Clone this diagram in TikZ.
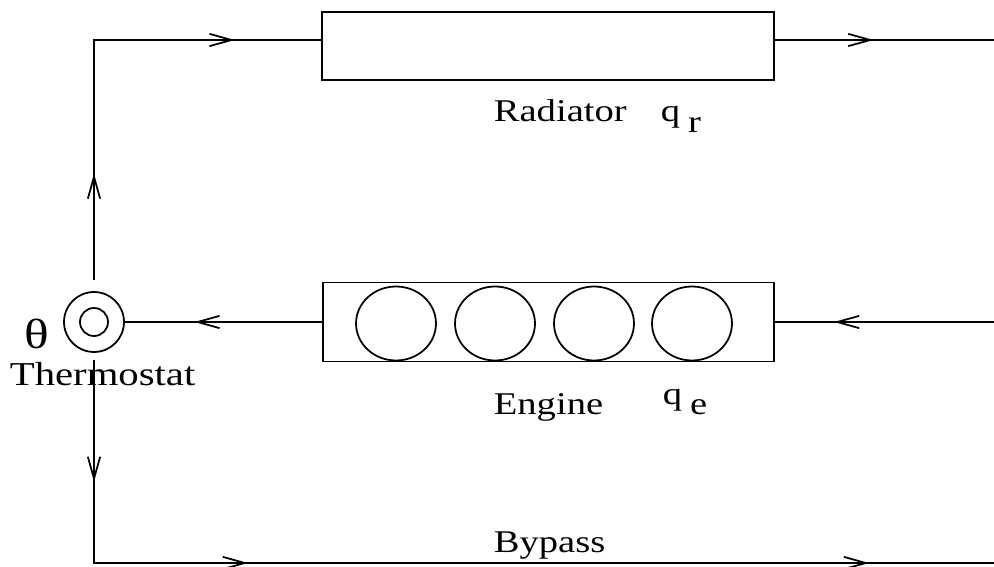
\documentclass[tikz,border=0pt]{standalone}
\usepackage{fontspec}
\setmainfont{Liberation Serif}[FakeStretch=1.22]
\usepackage{tikz}
\usetikzlibrary{arrows.meta, shapes.geometric, decorations.markings}

\tikzset{
  barb/.tip={Straight Barb[length=12.5pt, width=7pt]},
  flow/.style={postaction=decorate, decoration={markings,
      mark=at position #1 with {\arrow{barb}}}},
  flowtwo/.style 2 args={postaction=decorate, decoration={markings,
      mark=at position #1 with {\arrow{barb}},
      mark=at position #2 with {\arrow{barb}}}},
  flowthree/.style n args={3}{postaction=decorate, decoration={markings,
      mark=at position #1 with {\arrow{barb}},
      mark=at position #2 with {\arrow{barb}},
      mark=at position #3 with {\arrow{barb}}}}
}

\begin{document}
\begin{tikzpicture}[
    x=0.02cm, y=-0.02cm, line width=1pt,
    box/.style={draw, rectangle, inner sep=0pt},
    cyl/.style={draw, ellipse, inner sep=0pt, minimum width=1.6cm, minimum height=1.48cm},
    lbl/.style={font=\fontsize{18}{21}\selectfont, inner sep=0pt, anchor=base west}
]
    \useasboundingbox (0,0) rectangle (994,567);

    % components
    \node[box, minimum width=9.04cm, minimum height=1.36cm] (rad) at (548,46) {};
    \node[box, minimum width=9.02cm, minimum height=1.58cm] (eng) at (548.5,322) {};
    \foreach \i/\x in {1/396, 2/495, 3/594, 4/692}
        \node[cyl] (cyl\i) at (\x,323.5) {};
    \node[draw, circle, inner sep=0pt, minimum size=1.2cm] (th) at (94,322) {};
    \node[draw, circle, inner sep=0pt, minimum size=0.56cm] (thin) at (th) {};

    % labels
    \node[lbl] (radname) at (493,122) {Radiator};
    \node[lbl] (radq) at (660,122) {q\hspace{4.5pt}\raisebox{-6.2pt}{r}};
    \node[lbl] (engname) at (493,415) {Engine};
    \node[lbl] (engq) at (662,415) {\raisebox{5.7pt}{q}\hspace{4.5pt}e};
    \node[lbl] (bypass) at (493,552) {Bypass};
    \node[lbl, font=\fontsize{19}{22}\selectfont] (thname) at (9,386) {Thermostat};
    \node[font=\fontsize{24}{28}\selectfont, inner sep=0pt] (theta) at (37,334) {θ};

    % corners of the loop
    \coordinate (thtop) at (94,280);
    \coordinate (thbot) at (94,360);
    \coordinate (tl) at (94,40);
    \coordinate (tr) at (994,40);
    \coordinate (rm) at (994,322);
    \coordinate (br) at (994,563);

    % pipes
    \draw[flowtwo={0.228}{0.815}] (thtop) |- (rad.west |- tl);
    \draw[flow=0.45] (rad.east |- tr) -- (tr);
    \draw[flow=0.73] (rm) -- (eng.east);
    \draw[flow=0.648] (eng.west) -- (th);
    \draw[flowthree={0.1106}{0.3237}{0.8867}] (thbot) |- (br);
\end{tikzpicture}
\end{document}
